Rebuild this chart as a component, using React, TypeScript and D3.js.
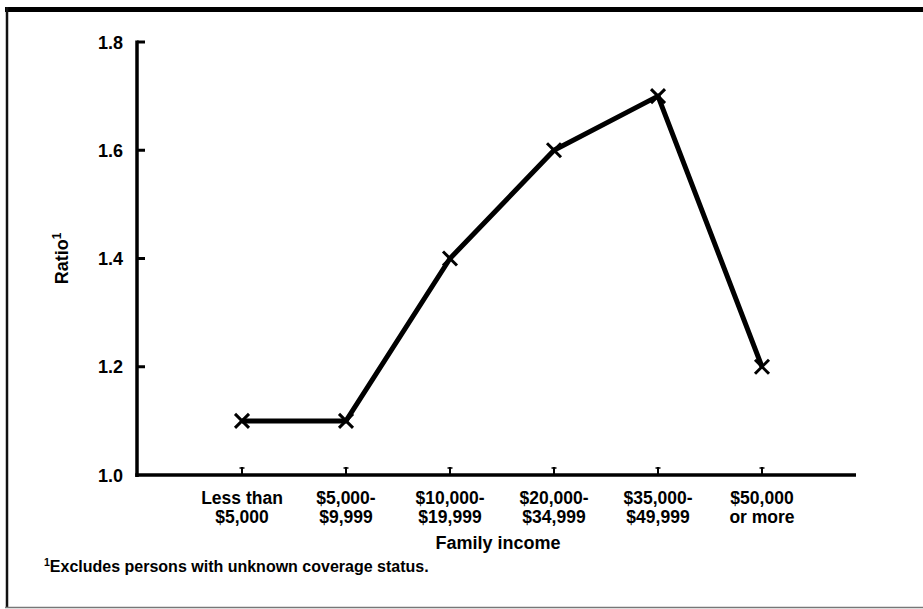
import React from "react";
import * as d3 from "d3";

const categories = [
  ["Less than", "$5,000"],
  ["$5,000-", "$9,999"],
  ["$10,000-", "$19,999"],
  ["$20,000-", "$34,999"],
  ["$35,000-", "$49,999"],
  ["$50,000", "or more"],
];
const ratios = [1.1, 1.1, 1.4, 1.6, 1.7, 1.2];
const yTicks = [1.0, 1.2, 1.4, 1.6, 1.8];

const W = 923;
const H = 609;
const FONT = "'Liberation Sans', Arial, sans-serif";

export default function App() {
  const keys = categories.map((c) => c.join(" "));
  const x = d3.scalePoint<string>().domain(keys).range([138, 866]).padding(1);
  const y = d3.scaleLinear().domain([1.0, 1.8]).range([475, 42]);
  const axisLeft = 137;
  const axisRight = 856;
  const line = d3
    .line<number>()
    .x((_, i) => x(keys[i]) as number)
    .y((d) => y(d));

  return (
    <div style={{ position: "absolute", left: 0, top: 0 }}>
      <svg width={W} height={H} style={{ display: "block", background: "#fff" }}>
        {/* frame */}
        <rect x={0} y={0} width={W} height={H} fill="#fff" />
        <line x1={5} x2={W} y1={9.5} y2={9.5} stroke="#000" strokeWidth={5} />
        <line x1={7} x2={7} y1={7} y2={607} stroke="#111" strokeWidth={2.5} />
        <line x1={5} x2={W} y1={607.5} y2={607.5} stroke="#777" strokeWidth={1.5} />

        {/* y axis */}
        <line x1={axisLeft} x2={axisLeft} y1={y(1.8) - 1.5} y2={y(1.0) + 2} stroke="#000" strokeWidth={3.5} />
        {yTicks.map((t) => (
          <g key={t}>
            {t > 1.0 && (
              <line x1={axisLeft} x2={axisLeft + 8} y1={y(t)} y2={y(t)} stroke="#000" strokeWidth={3} />
            )}
            <text
              x={123}
              y={y(t) + 6.5}
              textAnchor="end"
              fontFamily={FONT}
              fontWeight="bold"
              fontSize={18}
              fill="#000"
            >
              {d3.format(".1f")(t)}
            </text>
          </g>
        ))}

        {/* x axis */}
        <line x1={axisLeft - 1.75} x2={axisRight} y1={y(1.0)} y2={y(1.0)} stroke="#000" strokeWidth={3.5} />
        {keys.map((k, i) => (
          <g key={k}>
            <line x1={x(k)} x2={x(k)} y1={y(1.0)} y2={y(1.0) - 8} stroke="#000" strokeWidth={2} />
            <line
              x1={(x(k) as number) - 2.5}
              x2={(x(k) as number) + 2.5}
              y1={y(1.0) - 7}
              y2={y(1.0) - 7}
              stroke="#000"
              strokeWidth={1.5}
            />
            {categories[i].map((ln, j) => (
              <text
                key={j}
                x={x(k)}
                y={503.5 + j * 19.8}
                textAnchor="middle"
                fontFamily={FONT}
                fontWeight="bold"
                fontSize={17.5}
                fill="#000"
              >
                {ln}
              </text>
            ))}
          </g>
        ))}

        {/* data line */}
        <path d={line(ratios) || ""} fill="none" stroke="#000" strokeWidth={5} strokeLinejoin="round" />
        {ratios.map((v, i) => {
          const cx = x(keys[i]) as number;
          const cy = y(v);
          const s = 7;
          return (
            <g key={i} stroke="#000" strokeWidth={3}>
              <line x1={cx - s} x2={cx + s} y1={cy - s} y2={cy + s} />
              <line x1={cx - s} x2={cx + s} y1={cy + s} y2={cy - s} />
            </g>
          );
        })}

        {/* axis titles */}
        <text
          transform={`translate(68,${y(1.4)}) rotate(-90)`}
          textAnchor="middle"
          fontFamily={FONT}
          fontWeight="bold"
          fontSize={18}
          fill="#000"
        >
          Ratio<tspan dy={-7} fontSize={12}>1</tspan>
        </text>
        <text x={498} y={549} textAnchor="middle" fontFamily={FONT} fontWeight="bold" fontSize={18} fill="#000">
          Family income
        </text>

        {/* footnote */}
        <text x={44} y={572} fontFamily={FONT} fontWeight="bold" fontSize={16} fill="#000">
          <tspan dy={-6} fontSize={10.5}>1</tspan>
          <tspan dy={6}>Excludes persons with unknown coverage status.</tspan>
        </text>
      </svg>
    </div>
  );
}
